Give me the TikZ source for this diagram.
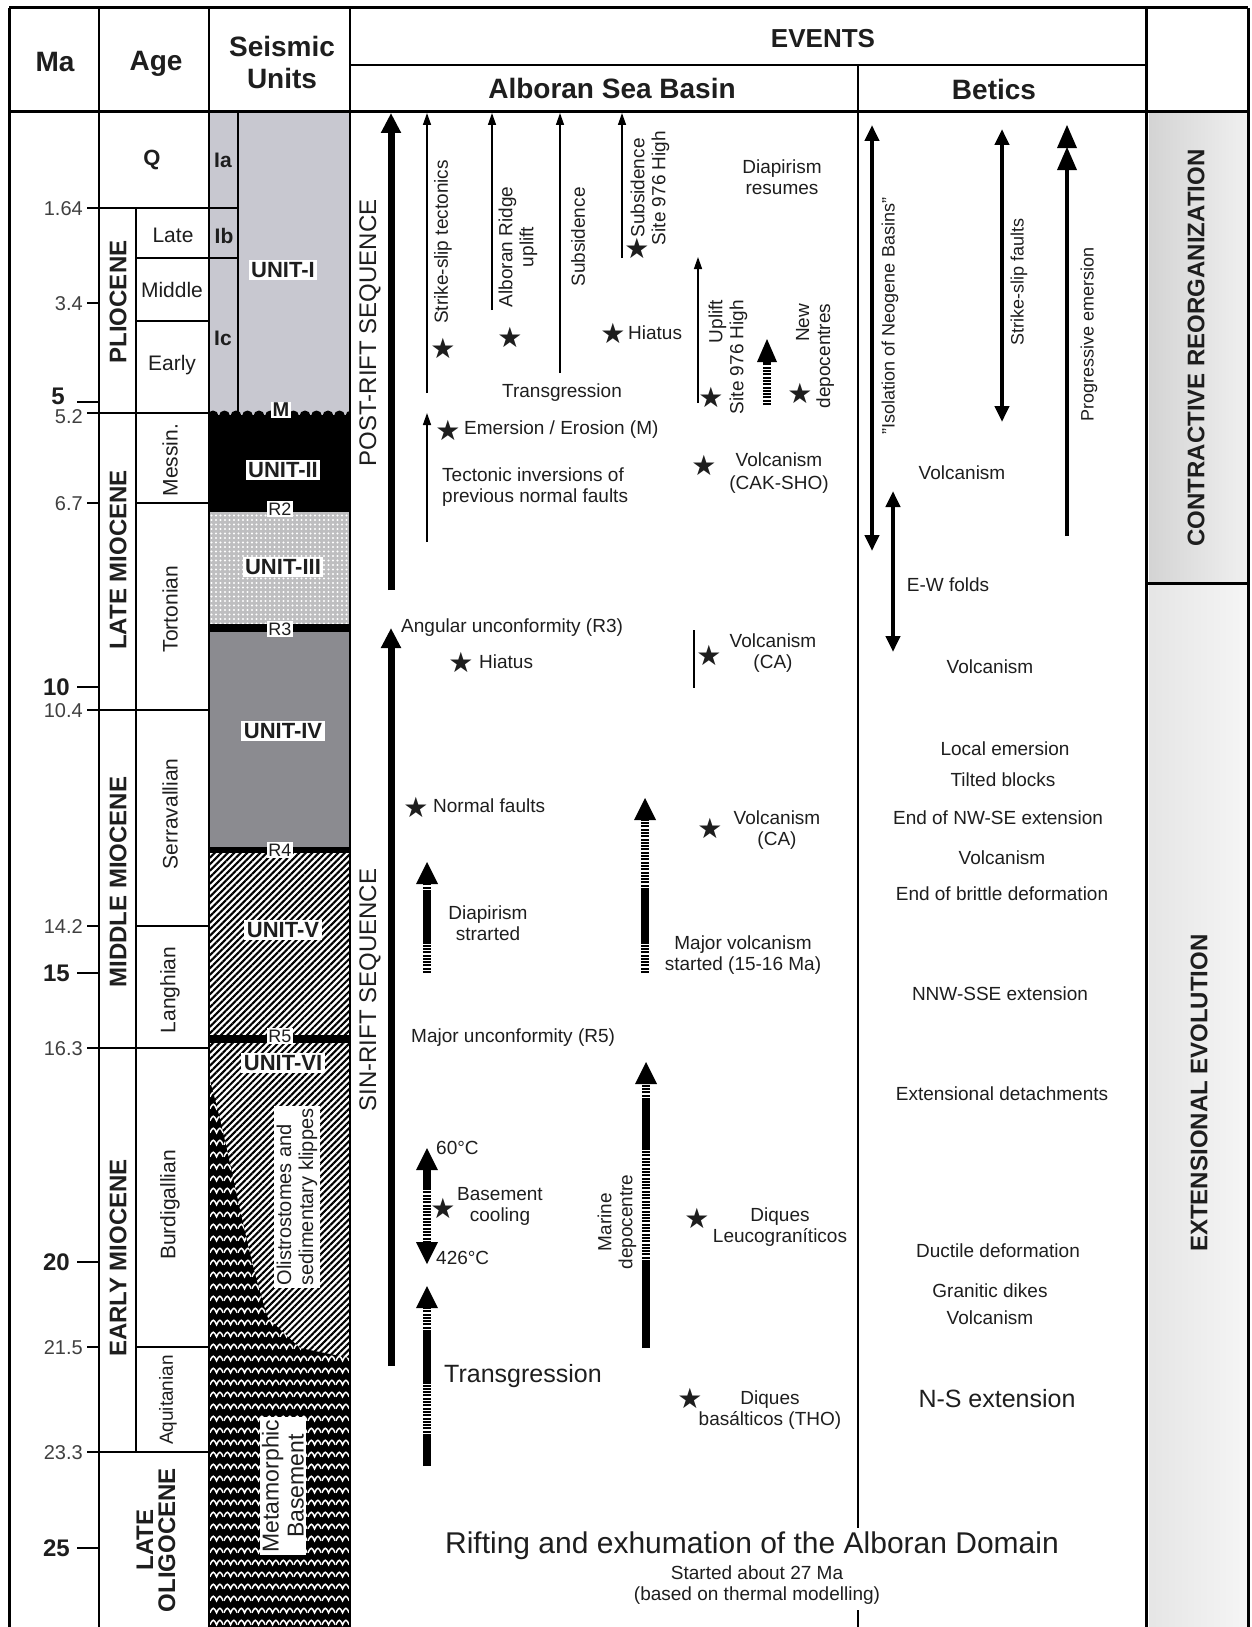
\documentclass[tikz,border=0pt]{standalone}
\usepackage{fontspec}
\setmainfont{Liberation Sans}
\newfontfamily\symfont{DejaVu Sans}
\usetikzlibrary{arrows.meta,patterns.meta}
\definecolor{txt}{HTML}{1E1E1E}
\definecolor{uI}{HTML}{C8C8D0}
\definecolor{uIII}{HTML}{BEBEC0}
\definecolor{uIV}{HTML}{8B8B90}
\newcommand{\fsz}[2]{\fontsize{#1}{#2}\selectfont}
\tikzdeclarepattern{
  name=waves, type=uncolored,
  bottom left={(0pt,0pt)}, top right={(14pt,12pt)},
  tile size={(14pt,12pt)},
  code={\draw[line width=1.6pt] (0pt,3.5pt) .. controls (3pt,10pt) and (4pt,10pt) .. (7pt,3.5pt) .. controls (10pt,10pt) and (11pt,10pt) .. (14pt,3.5pt);}
}
\begin{document}
\begin{tikzpicture}[x=1pt,y=-1pt,
  every node/.style={text=txt,inner sep=1pt},
  sm/.style={font=\fsz{19}{21},align=center},
  smr/.style={sm,rotate=90},
  btr/.style={font=\fsz{18}{20},rotate=90},
  hdr/.style={font=\bfseries\fsz{28}{32},align=center},
  ep/.style={font=\bfseries\fsz{24}{22},rotate=90,align=center},
  sub/.style={font=\fsz{21}{24}},
  subr/.style={sub,rotate=90},
  num/.style={font=\fsz{20}{22},anchor=east,text=black!75},
  bnum/.style={font=\bfseries\fsz{24}{26},anchor=east},
  ulab/.style={fill=white,font=\bfseries\fsz{22}{24},inner sep=2.5pt},
  rlab/.style={fill=white,font=\fsz{18}{20},inner sep=1.5pt},
  st/.style={font=\symfont\fsz{28}{28},inner sep=0pt},
  thinarr/.style={line width=1.4pt,-{Triangle[width=8pt,length=12pt]}},
  thickarr/.style={line width=7pt,-{Triangle[width=19pt,length=20pt]}},
  dblarr/.style={line width=4.5pt,{Triangle[width=14pt,length=16pt]}-{Triangle[width=14pt,length=16pt]}},
  ladS/.style={line width=8pt},
  ladD/.style={line width=8pt,dash pattern=on 2pt off 1.3pt},
  frame/.style={line width=3pt},
  sepl/.style={line width=2.2pt},
  fine/.style={line width=1.3pt},
  hatch/.style={pattern={Lines[angle=45,distance=4.6pt,line width=2.1pt]},pattern color=black}
]
\useasboundingbox[fill=white] (0,0) rectangle (1251,1627);

% ---------- seismic column fills ----------
\fill[uI] (209,112) rectangle (350,415);
\fill[black] (209,415) rectangle (350,512);
\begin{scope}
  \clip (209,400) rectangle (350,420);
  \foreach \i in {0,...,12} \fill[black] (213+11.5*\i,416) circle (5.5);
\end{scope}
\fill[uIII] (209,512) rectangle (350,625);
\fill[pattern={Dots[distance=4.5pt,radius=1.1pt]},pattern color=white] (209,512) rectangle (350,625);
\fill[black] (209,624) rectangle (350,632);
\fill[uIV] (209,632) rectangle (350,848);
\fill[black] (209,847) rectangle (350,853);
\fill[hatch] (209,853) rectangle (350,1036);
\fill[black] (209,1035) rectangle (350,1043);
\fill[hatch] (209,1043) rectangle (350,1630);
\path[fill=black] (209,1078) .. controls (228,1140) and (245,1250) .. (268,1318) -- (300,1348) -- (350,1358) -- (350,1630) -- (209,1630) -- cycle;
\path[pattern=waves,pattern color=white] (209,1078) .. controls (228,1140) and (245,1250) .. (268,1318) -- (300,1348) -- (350,1358) -- (350,1630) -- (209,1630) -- cycle;

% ---------- right column boxes ----------
\shade[left color=black!17,right color=black!6] (1149,114) rectangle (1247,581);
\shade[left color=black!10,right color=black!4] (1149,585) rectangle (1247,1630);
\draw[line width=3pt] (1146,583) -- (1248,583);

% ---------- frame & grid ----------
\draw[frame] (9,8) -- (1248,8);
\draw[frame] (9,8) -- (9,1630);
\draw[frame] (1248,8) -- (1248,1630);
\draw[frame] (9,112) -- (1248,112);
\draw[sepl] (99,8) -- (99,1630);
\draw[sepl] (209,8) -- (209,1630);
\draw[sepl] (350,8) -- (350,1630);
\draw[frame] (1146,8) -- (1146,1630);
\draw[fine] (350,65) -- (1146,65);
\draw[sepl] (858,65) -- (858,1528);
\draw[sepl] (858,1610) -- (858,1630);
\draw[fine] (136,208) -- (136,1452);
\draw[fine] (238,112) -- (238,413);
% boundaries and ticks
\draw[fine] (87,208) -- (238,208);
\draw[fine] (136,258) -- (238,258);
\draw[fine] (136,321) -- (209,321);
\draw[fine] (87,303) -- (99,303);
\draw[fine] (77,402) -- (99,402);
\draw[fine] (87,413) -- (209,413);
\draw[fine] (87,503) -- (99,503);
\draw[fine] (136,503) -- (209,503);
\draw[fine] (77,687) -- (99,687);
\draw[fine] (87,710) -- (209,710);
\draw[fine] (87,926) -- (99,926);
\draw[fine] (136,926) -- (209,926);
\draw[fine] (77,973) -- (99,973);
\draw[fine] (87,1048) -- (209,1048);
\draw[fine] (77,1262) -- (99,1262);
\draw[fine] (87,1347) -- (99,1347);
\draw[fine] (136,1347) -- (209,1347);
\draw[fine] (87,1452) -- (209,1452);
\draw[fine] (77,1548) -- (99,1548);

% ---------- headers ----------
\node[hdr] (hMa) at (55,62) {Ma};
\node[hdr] (hAge) at (156,64) {Age};
\node[hdr] (hSeis) at (282,62) {Seismic\\Units};
\node[hdr,font=\bfseries\fsz{26}{30}] (hEv) at (823,39) {EVENTS};
\node[hdr] (hAlb) at (612,88) {Alboran Sea Basin};
\node[hdr] (hBet) at (994,89) {Betics};

% ---------- Ma numbers ----------
\node[num] (n164) at (84,209) {1.64};
\node[num] (n34) at (84,304) {3.4};
\node[bnum] (n5) at (66,396) {5};
\node[num] (n52) at (84,417) {5.2};
\node[num] (n67) at (84,504) {6.7};
\node[bnum] (n10) at (71,687) {10};
\node[num] (n104) at (84,711) {10.4};
\node[num] (n142) at (84,927) {14.2};
\node[bnum] (n15) at (71,973) {15};
\node[num] (n163) at (84,1049) {16.3};
\node[bnum] (n20) at (71,1262) {20};
\node[num] (n215) at (84,1348) {21.5};
\node[num] (n233) at (84,1453) {23.3};
\node[bnum] (n25) at (71,1548) {25};

% ---------- ages ----------
\node[sub,font=\bfseries\fsz{22}{24}] (aQ) at (152,160) {Q};
\node[sub] (aLate) at (173,235) {Late};
\node[sub] (aMid) at (172,290) {Middle};
\node[sub] (aEarly) at (172,365) {Early};
\node[subr] (aMess) at (170,460) {Messin.};
\node[subr] (aTort) at (170,609) {Tortonian};
\node[subr] (aSerr) at (170,814) {Serravallian};
\node[subr] (aLang) at (170,990) {Langhian};
\node[subr] (aBurd) at (170,1205) {Burdigallian};
\node[subr,font=\fsz{19}{21}] (aAqui) at (168,1400) {Aquitanian};
\node[ep] (ePlio) at (118,302) {PLIOCENE};
\node[ep] (eLMio) at (118,560) {LATE MIOCENE};
\node[ep] (eMMio) at (118,882) {MIDDLE MIOCENE};
\node[ep] (eEMio) at (118,1258) {EARLY MIOCENE};
\node[ep] (eLOl) at (156,1540) {LATE\\OLIGOCENE};

% ---------- seismic labels ----------
\node[font=\bfseries\fsz{21}{24}] (sIa) at (223,160) {Ia};
\node[font=\bfseries\fsz{21}{24}] (sIb) at (224,236) {Ib};
\node[font=\bfseries\fsz{21}{24}] (sIc) at (223,338) {Ic};
\node[ulab] (u1) at (283,270) {UNIT-I};
\node[ulab,font=\bfseries\fsz{20}{22},inner sep=1.5pt] (uM) at (281,410) {M};
\node[ulab] (u2) at (283,470) {UNIT-II};
\node[rlab] (r2) at (280,509) {R2};
\node[ulab] (u3) at (283,567) {UNIT-III};
\node[rlab] (r3) at (280,629) {R3};
\node[ulab] (u4) at (283,731) {UNIT-IV};
\node[rlab] (r4) at (280,850) {R4};
\node[ulab] (u5) at (283,930) {UNIT-V};
\node[rlab] (r5) at (280,1036) {R5};
\node[ulab] (u6) at (283,1063) {UNIT-VI};
\node[fill=white,font=\fsz{20}{22},rotate=90,align=left,inner sep=2.5pt] (olis) at (297,1197) {Olistrostomes and\\sedimentary klippes};
\node[fill=white,font=\fsz{23}{25},rotate=90,align=center,inner sep=2.5pt] (meta) at (283,1486) {Metamorphic\\Basement};

% ---------- sequences ----------
\draw[thickarr] (391,590) -- (391,113);
\draw[thickarr] (391,1366) -- (391,628);
\node[font=\fsz{24}{26},rotate=90] (post) at (370,333) {POST-RIFT SEQUENCE};
\node[font=\fsz{24}{26},rotate=90] (sin) at (370,990) {SIN-RIFT SEQUENCE};

% ---------- Alboran: post-rift ----------
\draw[thinarr] (427,393) -- (427,113);
\node[smr] (tStrike) at (443,242) {Strike-slip tectonics};
\node[st] (s1) at (443,348) {★};
\draw[thinarr] (492,310) -- (492,113);
\node[smr] (tRidge) at (518,247) {Alboran Ridge\\uplift};
\node[st] (s2) at (510,337) {★};
\draw[thinarr] (560,373) -- (560,113);
\node[smr] (tSubs) at (578,237) {Subsidence};
\draw[thinarr] (622,258) -- (622,113);
\node[smr] (tSubs2) at (650,188) {Subsidence\\Site 976 High};
\node[st] (s3) at (637,248) {★};
\node[st] (s4) at (613,333) {★};
\node[sm,anchor=west] (tHiat) at (627,333) {Hiatus};
\node[sm] (tDiap) at (782,177) {Diapirism\\resumes};
\node[sm] (tTransg) at (562,393) {Transgression};
\draw[thinarr] (698,403) -- (698,257);
\node[smr,align=right] (tUplift) at (728,357) {Uplift\\Site 976 High};
\node[st] (s5) at (711,397) {★};
\draw[ladD] (767,405) -- (767,362);
\fill (757,362) -- (767,339) -- (777,362) -- cycle;
\node[smr,align=right] (tNew) at (815,356) {New\\depocentres};
\node[st] (s6) at (800,393) {★};
\draw[thinarr] (427,542) -- (427,413);
\node[st] (s7) at (448,430) {★};
\node[sm,anchor=west] (tEmer) at (463,430) {Emersion / Erosion (M)};
\node[sm,anchor=west,align=left] (tTect) at (441,487) {Tectonic inversions of\\previous normal faults};
\node[st] (s8) at (704,465) {★};
\node[sm,font=\fsz{19}{23}] (tVol1) at (779,473) {Volcanism\\(CAK-SHO)};

% ---------- Alboran: sin-rift ----------
\node[sm,anchor=west] (tAng) at (400,628) {Angular unconformity (R3)};
\node[st] (s9) at (461,662) {★};
\node[sm,anchor=west] (tHiat2) at (478,662) {Hiatus};
\draw[line width=1.3pt] (694,630) -- (694,688);
\node[st] (s10) at (709,655) {★};
\node[sm] (tVol2) at (773,653) {Volcanism\\(CA)};
\node[st] (s11) at (416,807) {★};
\node[sm,anchor=west] (tNorm) at (432,806) {Normal faults};
% diapirism started
\draw[ladD] (427,973) -- (427,943);
\draw[ladS] (427,943) -- (427,892);
\draw[ladD] (427,892) -- (427,883);
\fill (416,884) -- (427,862) -- (438,884) -- cycle;
\node[sm] (tDiapS) at (488,923) {Diapirism\\strarted};
% major volcanism
\draw[ladD] (645,973) -- (645,943);
\draw[ladS] (645,943) -- (645,890);
\draw[ladD] (645,890) -- (645,819);
\fill (634,820) -- (645,798) -- (656,820) -- cycle;
\node[sm] (tMajV) at (743,955) {Major volcanism\\started (15-16 Ma)};
\node[st] (s12) at (710,828) {★};
\node[sm] (tVol3) at (777,830) {Volcanism\\(CA)};
\node[sm,anchor=west] (tMajU) at (410,1038) {Major unconformity (R5)};
% marine depocentre
\draw[ladS] (646,1348) -- (646,1262);
\draw[ladD] (646,1262) -- (646,1150);
\draw[ladS] (646,1150) -- (646,1100);
\draw[ladD] (646,1100) -- (646,1083);
\fill (635,1084) -- (646,1062) -- (657,1084) -- cycle;
\node[smr] (tMarine) at (617,1222) {Marine\\depocentre};
% basement cooling
\fill (416,1170) -- (427,1148) -- (438,1170) -- cycle;
\draw[ladS] (427,1169) -- (427,1188);
\draw[ladD] (427,1188) -- (427,1243);
\fill (416,1242) -- (427,1264) -- (438,1242) -- cycle;
\node[sm,anchor=west] (t60) at (435,1148) {60°C};
\node[sm,anchor=west] (t426) at (435,1258) {426°C};
\node[st] (s13) at (443,1208) {★};
\node[sm] (tBase) at (500,1206) {Basement\\cooling};
% transgression
\draw[ladS] (427,1466) -- (427,1436);
\draw[ladD] (427,1436) -- (427,1384);
\draw[ladS] (427,1384) -- (427,1332);
\draw[ladD] (427,1332) -- (427,1307);
\fill (416,1308) -- (427,1286) -- (438,1308) -- cycle;
\node[font=\fsz{25}{28},anchor=west] (tTrans2) at (443,1376) {Transgression};
\node[st] (s14) at (697,1218) {★};
\node[sm] (tDiq1) at (780,1227) {Diques\\Leucograníticos};
\node[st] (s15) at (690,1398) {★};
\node[sm] (tDiq2) at (770,1410) {Diques\\basálticos (THO)};
\node[font=\fsz{30}{32}] (tRift) at (752,1546) {Rifting and exhumation of the Alboran Domain};
\node[sm,align=center] (tStart) at (757,1585) {Started about 27 Ma\\(based on thermal modelling)};

% ---------- Betics ----------
\draw[dblarr] (872,125) -- (872,551);
\node[btr] (bIso) at (890,316) {"Isolation of Neogene Basins"};
\draw[dblarr] (1002,129) -- (1002,422);
\node[btr] (bStr) at (1019,282) {Strike-slip faults};
\draw[line width=4.5pt] (1067,536) -- (1067,160);
\fill (1057,170) -- (1067,147) -- (1077,170) -- cycle;
\fill (1057,148) -- (1067,125) -- (1077,148) -- cycle;
\node[btr] (bProg) at (1089,334) {Progressive emersion};
\node[sm] (bVol1) at (962,473) {Volcanism};
\draw[dblarr] (893,491) -- (893,652);
\node[sm] (bEW) at (948,585) {E-W folds};
\node[sm] (bVol2) at (990,667) {Volcanism};
\node[sm] (bLoc) at (1005,749) {Local emersion};
\node[sm] (bTilt) at (1003,780) {Tilted blocks};
\node[sm] (bEnd1) at (998,818) {End of NW-SE extension};
\node[sm] (bVol3) at (1002,858) {Volcanism};
\node[sm] (bEnd2) at (1002,894) {End of brittle deformation};
\node[sm] (bNNW) at (1000,994) {NNW-SSE extension};
\node[sm] (bExt) at (1002,1094) {Extensional detachments};
\node[sm] (bDuct) at (998,1251) {Ductile deformation};
\node[sm] (bGran) at (990,1291) {Granitic dikes};
\node[sm] (bVol4) at (990,1318) {Volcanism};
\node[font=\fsz{25}{28}] (bNS) at (997,1399) {N-S extension};

% ---------- right column ----------
\node[font=\bfseries\fsz{24}{26},rotate=90] (cContr) at (1196,348) {CONTRACTIVE REORGANIZATION};
\node[font=\bfseries\fsz{24}{26},rotate=90] (cExt) at (1199,1093) {EXTENSIONAL EVOLUTION};
\end{tikzpicture}
\end{document}
